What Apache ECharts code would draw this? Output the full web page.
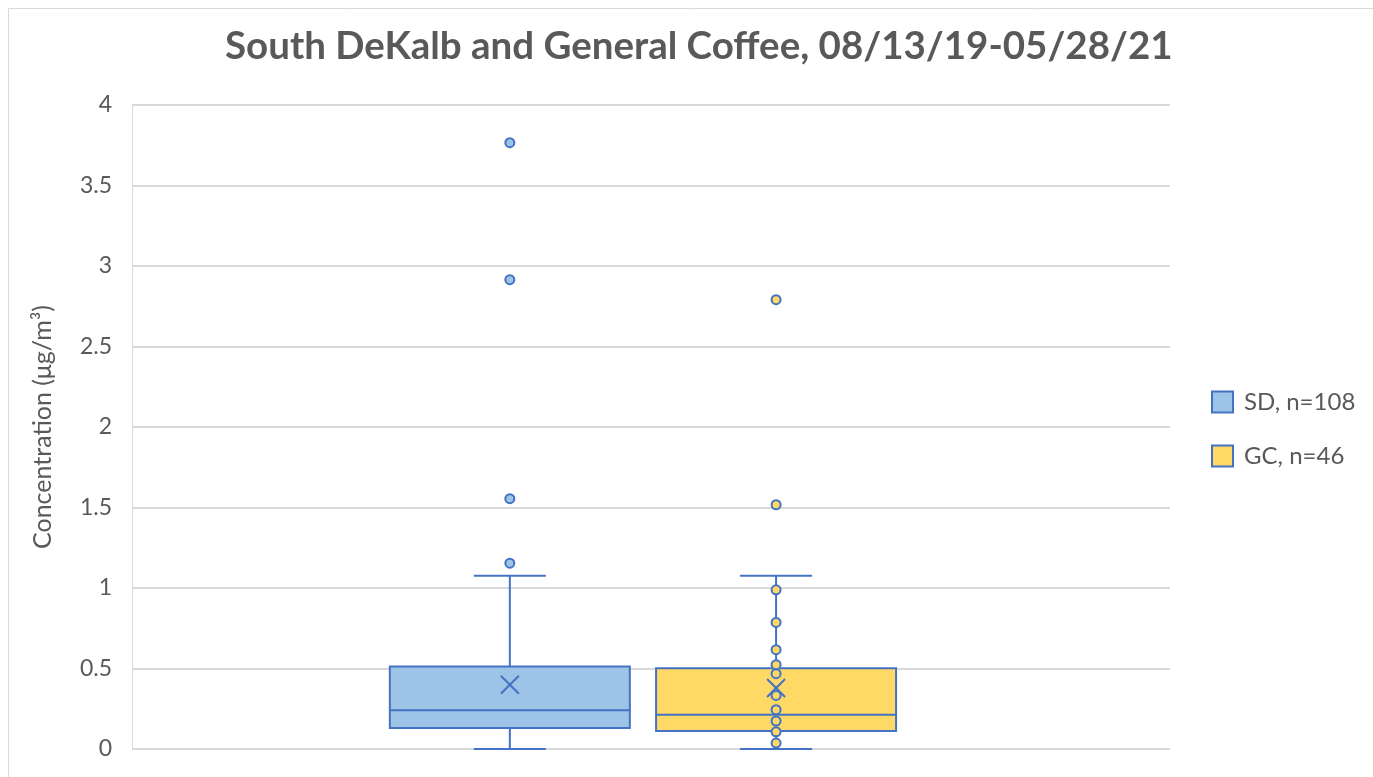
<!DOCTYPE html>
<html>
<head>
<meta charset="utf-8">
<title>South DeKalb and General Coffee</title>
<script src="https://cdn.jsdelivr.net/npm/echarts@6/dist/echarts.min.js"></script>
<style>
  html, body { margin: 0; padding: 0; background: #ffffff; }
  #chart { width: 1373px; height: 777px; }
</style>
</head>
<body>
<div id="chart"></div>
<script>
// Site labels (legend)
const seriesNames = ['SD, n=108', 'GC, n=46'];

// Five-number summaries: [min, Q1, median, Q3, max]
const sdBox = [0, 0.130, 0.240, 0.513, 1.076];
const gcBox = [0, 0.112, 0.213, 0.501, 1.076];

// Means (drawn as an X)
const sdMean = 0.399;
const gcMean = 0.379;

// Individual points drawn on top of each box (outliers / inner points)
const sdPoints = [1.154, 1.555, 2.915, 3.766];
const gcPoints = [0.037, 0.107, 0.174, 0.244, 0.333, 0.468, 0.524, 0.617, 0.786, 0.989, 1.517, 2.791];

// Value axis
const yMin = 0;
const yMax = 4;
const yStep = 0.5;

// Layout & style
const BOX_X = { sd: 0.364, gc: 0.6205 };   // horizontal box centres within the plot (0..1)
const BOX_HALF = 120;                      // half box width, px
const CAP_HALF = 36;                       // half whisker-cap width, px
const MEAN_HALF = 9;                       // half size of the mean X, px
const EDGE = '#4472C4';
const FILL = { sd: '#9DC3E6', gc: '#FFD966' };
const TEXT = '#595959';
const GRID = '#D9D9D9';
const FONT = 'Lato, "Open Sans", sans-serif';

function renderBox(fill) {
  return function (params, api) {
    const x = api.value(0);
    const pMin = api.coord([x, api.value(1)]);
    const pQ1 = api.coord([x, api.value(2)]);
    const pMed = api.coord([x, api.value(3)]);
    const pQ3 = api.coord([x, api.value(4)]);
    const pMax = api.coord([x, api.value(5)]);
    const pMean = api.coord([x, api.value(6)]);
    const cx = pQ1[0];
    const line = (x1, y1, x2, y2) => ({
      type: 'line',
      shape: { x1, y1, x2, y2 },
      style: { stroke: EDGE, lineWidth: 2 }
    });
    return {
      type: 'group',
      children: [
        line(cx, pQ3[1], cx, pMax[1]),
        line(cx - CAP_HALF, pMax[1], cx + CAP_HALF, pMax[1]),
        line(cx, pQ1[1], cx, pMin[1]),
        line(cx - CAP_HALF, pMin[1], cx + CAP_HALF, pMin[1]),
        {
          type: 'rect',
          shape: { x: cx - BOX_HALF, y: pQ3[1], width: BOX_HALF * 2, height: pQ1[1] - pQ3[1] },
          style: { fill: fill, stroke: EDGE, lineWidth: 2 }
        },
        line(cx - BOX_HALF, pMed[1], cx + BOX_HALF, pMed[1]),
        line(cx - MEAN_HALF, pMean[1] - MEAN_HALF, cx + MEAN_HALF, pMean[1] + MEAN_HALF),
        line(cx - MEAN_HALF, pMean[1] + MEAN_HALF, cx + MEAN_HALF, pMean[1] - MEAN_HALF)
      ]
    };
  };
}

function boxSeries(name, pos, box, mean, fill) {
  return {
    name: name,
    type: 'custom',
    renderItem: renderBox(fill),
    itemStyle: { color: fill, borderColor: EDGE, borderWidth: 2 },
    encode: { x: 0, y: [1, 2, 3, 4, 5, 6] },
    data: [[pos].concat(box, [mean])],
    z: 2
  };
}

function pointSeries(name, pos, points, fill) {
  return {
    name: name,
    type: 'scatter',
    symbol: 'circle',
    symbolSize: 9,
    itemStyle: { color: fill, borderColor: EDGE, borderWidth: 2, opacity: 1 },
    data: points.map(v => [pos, v]),
    z: 3
  };
}

const chart = echarts.init(document.getElementById('chart'), null, { renderer: 'canvas' });

chart.setOption({
  animation: false,
  backgroundColor: '#ffffff',
  title: {
    text: 'South DeKalb and General Coffee, 08/13/19-05/28/21',
    left: 225,
    top: 27,
    padding: 0,
    textStyle: { fontFamily: FONT, fontWeight: 'bold', fontSize: 38.5, color: TEXT }
  },
  graphic: [{
    type: 'rect',
    shape: { x: 8.5, y: 8.5, width: 1400, height: 800 },
    style: { fill: 'none', stroke: GRID, lineWidth: 1 },
    silent: true,
    z: -1
  }],
  legend: {
    orient: 'vertical',
    left: 1211,
    top: 390,
    padding: 0,
    itemWidth: 21,
    itemHeight: 21,
    itemGap: 30,
    icon: 'rect',
    textStyle: { fontFamily: FONT, fontSize: 24, color: TEXT, padding: [0, 0, 0, 6] },
    data: [
      { name: seriesNames[0], itemStyle: { color: FILL.sd, borderColor: EDGE, borderWidth: 2 } },
      { name: seriesNames[1], itemStyle: { color: FILL.gc, borderColor: EDGE, borderWidth: 2 } }
    ]
  },
  grid: { left: 132, right: 203, top: 105, bottom: 28, containLabel: false },
  xAxis: {
    type: 'value',
    min: 0,
    max: 1,
    show: false
  },
  yAxis: {
    type: 'value',
    min: yMin,
    max: yMax,
    interval: yStep,
    name: 'Concentration (μg/m³)',
    nameLocation: 'middle',
    nameGap: 77,
    nameTextStyle: { fontFamily: FONT, fontSize: 25, color: TEXT },
    axisLine: { show: true, lineStyle: { color: GRID, width: 1 } },
    axisTick: { show: false },
    axisLabel: { fontFamily: FONT, fontSize: 23, color: TEXT, margin: 20 },
    splitLine: { show: true, lineStyle: { color: GRID, width: 2 } }
  },
  series: [
    boxSeries(seriesNames[0], BOX_X.sd, sdBox, sdMean, FILL.sd),
    boxSeries(seriesNames[1], BOX_X.gc, gcBox, gcMean, FILL.gc),
    pointSeries(seriesNames[0], BOX_X.sd, sdPoints, FILL.sd),
    pointSeries(seriesNames[1], BOX_X.gc, gcPoints, FILL.gc)
  ]
});
</script>
</body>
</html>
